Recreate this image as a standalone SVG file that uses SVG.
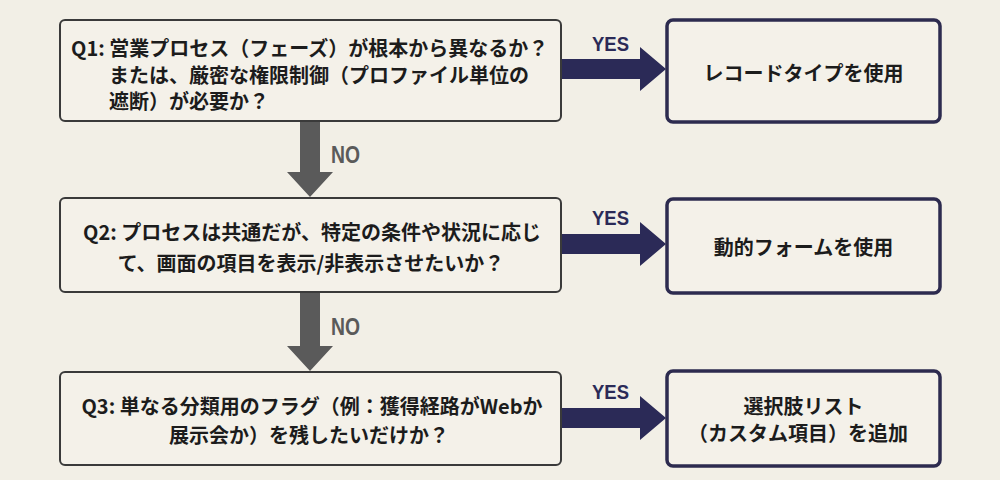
<svg xmlns="http://www.w3.org/2000/svg" width="1000" height="480" viewBox="0 0 1000 480">
<style>
.q{fill:#f4f1e9;stroke:#3a3a3a;stroke-width:2}
.a{fill:#f4f1e9;stroke:#2d2b4f;stroke-width:3.5}
.t{font-family:"Noto Sans CJK JP","Noto Sans",sans-serif;font-weight:700;font-size:20px;fill:#1c1c1c;dominant-baseline:central}
.m{text-anchor:middle}
.yes{font-family:"Liberation Sans",Arial,sans-serif;font-weight:700;font-size:21px;fill:#2b2a57}
.no{font-family:"Liberation Sans",Arial,sans-serif;font-weight:700;font-size:23px;fill:#5a5a5a}
.ya{fill:#2b2a57}
.na{fill:#5a5a5a}
</style>
<rect width="1000" height="480" fill="#f2efe6"/>
<g id="connectors">
<polygon class="na" points="300,121 320,121 320,172 333,172 310,197 287,172 300,172"/>
<text class="no" x="331" y="163" textLength="29" lengthAdjust="spacingAndGlyphs">NO</text>
<polygon class="na" points="300,292 320,292 320,346 333,346 310,371 287,346 300,346"/>
<text class="no" x="331" y="335" textLength="29" lengthAdjust="spacingAndGlyphs">NO</text>
<polygon class="ya" points="561,59 640,59 640,47 666,69 640,91 640,79 561,79"/>
<text class="yes" x="592" y="51" textLength="37" lengthAdjust="spacingAndGlyphs">YES</text>
<polygon class="ya" points="561,234 640,234 640,222 666,244 640,266 640,254 561,254"/>
<text class="yes" x="592" y="225" textLength="37" lengthAdjust="spacingAndGlyphs">YES</text>
<polygon class="ya" points="561,408 640,408 640,396 666,418 640,440 640,428 561,428"/>
<text class="yes" x="592" y="399" textLength="37" lengthAdjust="spacingAndGlyphs">YES</text>
</g>
<g id="q1">
<rect class="q" x="60" y="20" width="501" height="101" rx="5"/>
<text class="t" x="71" y="47.5">Q1: 営業プロセス（フェーズ）が根本から異なるか？</text>
<text class="t" x="109" y="74">または、厳密な権限制御（プロファイル単位の</text>
<text class="t" x="109" y="100.5">遮断）が必要か？</text>
</g>
<g id="q2">
<rect class="q" x="60" y="198" width="501" height="94" rx="5"/>
<text class="t m" x="312" y="231">Q2: プロセスは共通だが、特定の条件や状況に応じ</text>
<text class="t m" x="311" y="262.5">て、画面の項目を表示/非表示させたいか？</text>
</g>
<g id="q3">
<rect class="q" x="60" y="372" width="501" height="93" rx="5"/>
<text class="t m" x="312" y="405">Q3: 単なる分類用のフラグ（例：獲得経路がWebか</text>
<text class="t m" x="309" y="434">展示会か）を残したいだけか？</text>
</g>
<g id="a1">
<rect class="a" x="667" y="20" width="273" height="102" rx="6"/>
<text class="t m" x="803.5" y="72">レコードタイプを使用</text>
</g>
<g id="a2">
<rect class="a" x="667" y="199" width="273" height="94" rx="6"/>
<text class="t m" x="803.5" y="246">動的フォームを使用</text>
</g>
<g id="a3">
<rect class="a" x="667" y="371" width="273" height="95" rx="6"/>
<text class="t m" x="803.5" y="405">選択肢リスト</text>
<text class="t m" x="798" y="432">（カスタム項目）を追加</text>
</g>
</svg>
